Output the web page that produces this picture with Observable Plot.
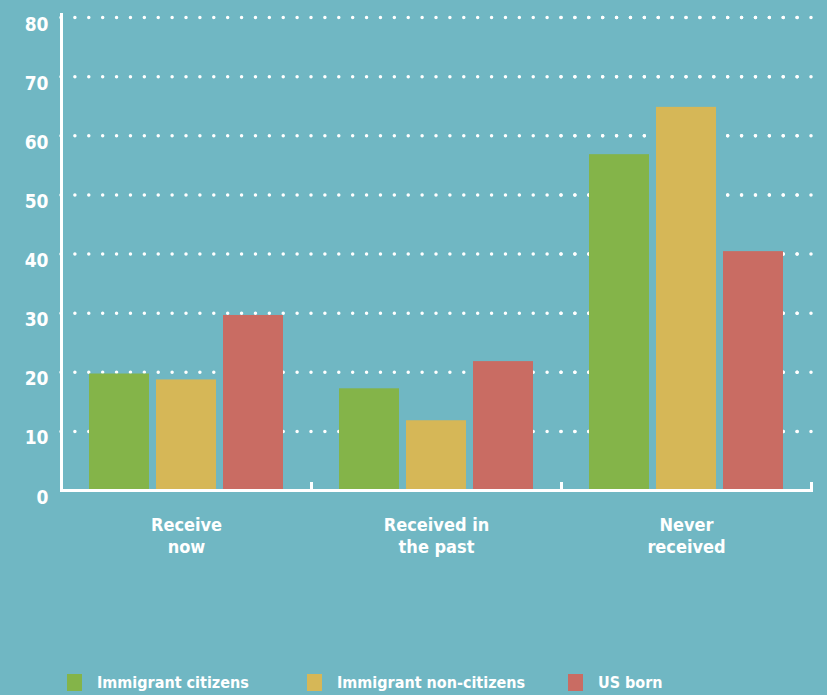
<!DOCTYPE html>
<html>
<head>
<meta charset="utf-8">
<script src="https://cdn.jsdelivr.net/npm/d3@7"></script>
<script src="https://cdn.jsdelivr.net/npm/@observablehq/plot@0.6"></script>
<style>
  html, body { margin: 0; padding: 0; }
  body { background: #70b7c3; width: 827px; height: 695px; overflow: hidden;
         font-family: "DejaVu Sans Condensed", "DejaVu Sans", sans-serif; }
  #legend { position: relative; height: 30px; }
  .item { position: absolute; top: 8px; display: flex; align-items: center; }
  .sw { width: 15px; height: 17px; margin-right: 15px; }
  .lab { color: #fff; font-weight: bold; font-size: 16px; }
</style>
</head>
<body>
<div id="chart"></div>
<div id="legend"></div>
<script>
const categories = ["Receive now", "Received in the past", "Never received"];
const categoryLabels = ["Receive\nnow", "Received in\nthe past", "Never\nreceived"];
const groups = ["Immigrant citizens", "Immigrant non-citizens", "US born"];
const immigrantCitizens = [19.7, 17.2, 56.8];
const immigrantNonCitizens = [18.7, 11.8, 64.8];
const usBorn = [29.6, 21.8, 40.4];
const colors = ["#84b449", "#d6b757", "#c96c63"];
const yTicks = [0, 10, 20, 30, 40, 50, 60, 70, 80];

const series = [immigrantCitizens, immigrantNonCitizens, usBorn];
const rows = [];
categories.forEach((c, i) => groups.forEach((g, j) => rows.push({category: c, group: g, value: series[j][i]})));
const labelOf = new Map(categories.map((c, i) => [c, categoryLabels[i]]));
const gridTicks = yTicks.filter(d => d > 0);
const gridStyle = {stroke: "white", strokeOpacity: 1, strokeWidth: 3.5, strokeDasharray: "0,13.889", strokeLinecap: "round"};

const chart = Plot.plot({
  width: 827,
  height: 665,
  marginLeft: 61,
  marginRight: 16,
  marginTop: 17,
  marginBottom: 175,
  style: {background: "transparent", color: "white", fontFamily: "'DejaVu Sans Condensed', 'DejaVu Sans', sans-serif"},
  fx: {domain: categories, padding: 0, label: null, axis: null},
  x: {domain: groups, paddingInner: 0.105, paddingOuter: 0.41, axis: null},
  y: {domain: [0, 80], axis: null},
  color: {domain: groups, range: colors},
  marks: [
    Plot.gridY(gridTicks, gridStyle),
    Plot.ruleY(gridTicks, {...gridStyle, fx: () => categories[2], insetRight: -13}),
    Plot.barY(rows, {fx: "category", x: "group", y: "value", fill: "group"}),
    Plot.ruleY([0], {stroke: "white", strokeWidth: 3}),
    Plot.frame({anchor: "right", stroke: "white", strokeWidth: 3, insetTop: 466}),
    Plot.frame({anchor: "left", fx: () => categories[0], stroke: "white", strokeWidth: 3, insetTop: -3}),
    Plot.axisY(yTicks, {tickSize: 0, tickPadding: 13, dy: 7, fontSize: 19, fontWeight: "bold", label: null}),
    Plot.axisFx({anchor: "bottom", tickSize: 0, tickPadding: 26, fontSize: 18, fontWeight: "bold", lineHeight: 1.17, label: null, tickFormat: d => labelOf.get(d)})
  ]
});
document.getElementById("chart").appendChild(chart);

const legendLeft = [67, 307, 568];
const legend = document.getElementById("legend");
groups.forEach((g, i) => {
  const item = document.createElement("div");
  item.className = "item";
  item.style.left = legendLeft[i] + "px";
  item.innerHTML = `<div class="sw" style="background:${colors[i]}"></div><span class="lab">${g}</span>`;
  legend.appendChild(item);
});
</script>
</body>
</html>
